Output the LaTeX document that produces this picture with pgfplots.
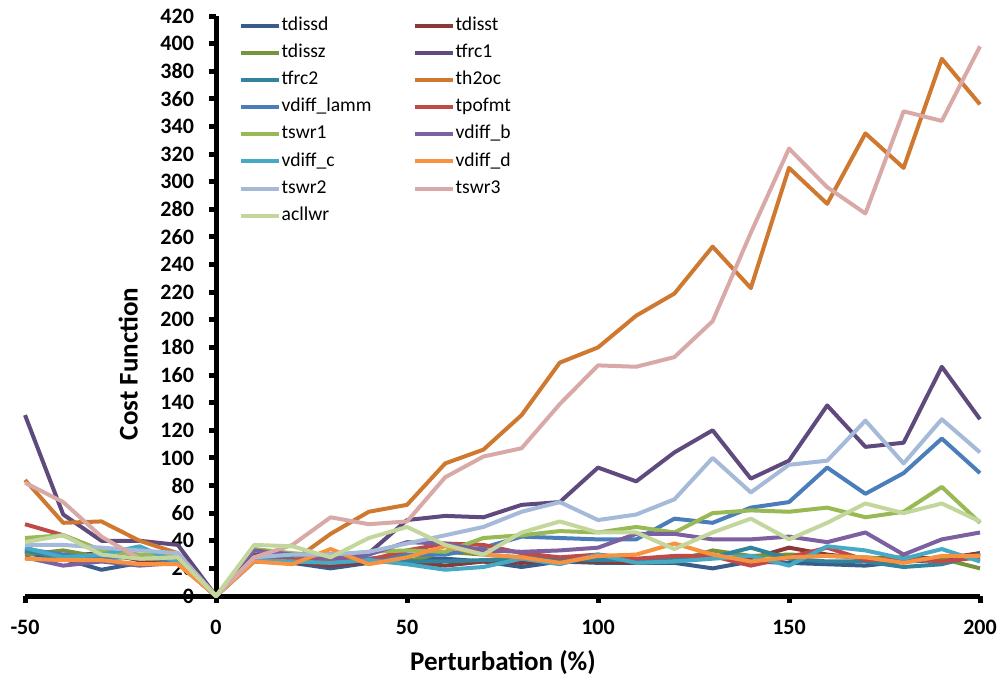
\documentclass[border=0pt]{standalone}
\usepackage{fontspec}
\setmainfont{Carlito}
\usepackage{pgfplots}
\usepackage{pgfplotstable}
\pgfplotsset{compat=1.18}

% Series colours
\definecolor{cTdissd}{HTML}{385D8A}
\definecolor{cTdisst}{HTML}{8C3836}
\definecolor{cTdissz}{HTML}{77933C}
\definecolor{cTfrcA}{HTML}{5F4A7E}
\definecolor{cTfrcB}{HTML}{31849B}
\definecolor{cThoc}{HTML}{CF7830}
\definecolor{cLamm}{HTML}{4A7EBB}
\definecolor{cTpofmt}{HTML}{BE4B48}
\definecolor{cTswrA}{HTML}{98B954}
\definecolor{cVdiffB}{HTML}{7D60A0}
\definecolor{cVdiffC}{HTML}{46AAC5}
\definecolor{cVdiffD}{HTML}{F69240}
\definecolor{cTswrB}{HTML}{A5B9D8}
\definecolor{cTswrC}{HTML}{D9A9A7}
\definecolor{cAcllwr}{HTML}{C3D69B}

\pgfplotstableread{
x    tdissd tdisst tdissz tfrc1 tfrc2 th2oc lamm tpofmt tswr1 vb vc vd tswr2 tswr3 acllwr
-50  31 32 30 131 33  84  34 52 42 28 35 27  37  82 39
-40  27 29 33  59 27  53  30 44 44 22 28 26  37  68 44
-30  19 31 28  40 28  54  27 33 33 25 30 26  35  43 30
-20  24 26 28  40 35  40  29 28 30 22 36 23  33  27 27
-10  24 25 25  37 24  31  25 27 29 24 24 23  31  28 28
0     0  0  0   0  0   0   0  0  0  0  0  0   0   0  0
10   25 27 28  30 27  26  27 27 34 33 26 25  28  28 37
20   24 25 28  30 28  25  26 26 31 30 25 23  30  37 36
30   20 22 30  30 24  45  28 26 29 27 24 34  30  57 28
40   24 25 27  31 26  61  27 26 32 30 26 23  32  52 42
50   26 25 25  55 25  66  30 33 33 39 23 28  38  54 50
60   27 22 32  58 25  96  30 38 32 38 19 36  44  86 37
70   25 25 30  57 26 106  35 37 42 33 21 30  50 101 30
80   21 24 28  66 27 131  43 31 44 32 27 28  61 107 46
90   25 26 27  68 27 169  42 28 47 33 23 24  68 139 54
100  24 25 27  93 26 180  41 30 46 35 30 29  55 167 46
110  24 24 26  83 26 203  41 27 50 45 24 30  59 166 46
120  24 28 25 104 28 219  56 29 46 45 25 38  70 173 34
130  20 28 33 120 28 253  53 29 60 41 27 30 100 199 46
140  25 27 29  85 35 223  64 22 62 41 29 25  75 263 56
150  24 35 30  98 27 310  68 28 61 43 22 28  95 324 41
160  23 30 29 138 25 284  93 35 64 39 36 29  98 296 53
170  22 27 28 108 25 335  74 26 57 46 33 28 127 277 67
180  25 28 26 111 21 310  89 27 61 30 27 24  96 351 60
190  26 27 27 166 23 389 114 25 79 41 34 29 128 344 67
200  31 31 20 128 30 356  89 28 53 46 25 29 104 398 54
}\costdata

% first legend column gets a fixed width so the second column lines up
\newcommand{\lcol}[1]{\makebox[65pt][l]{#1}}

\begin{document}
\begin{tikzpicture}
\begin{axis}[
  scale only axis,
  width=477.5pt, height=290pt,
  xmin=-50, xmax=200, ymin=0, ymax=420,
  clip=false,
  axis lines=middle,
  axis line style={-, line width=2.5pt, black},
  xtick={-50,0,50,100,150,200},
  ytick={0,20,...,420},
  hide obscured x ticks=false,
  hide obscured y ticks=false,
  tick align=outside,
  major tick length=3.5pt,
  tick style={line width=2.5pt, black},
  /pgf/number format/assume math mode=true,
  tick label style={font=\fontsize{11}{12}\selectfont\bfseries},
  xticklabel style={yshift=-5pt},
  yticklabel style={xshift=-4pt},
  xlabel={Perturbation (\%)},
  ylabel={Cost Function},
  every axis x label/.style={at={(rel axis cs:0.5005,-0.114)}, anchor=center,
    font=\fontsize{13.5}{15}\selectfont\bfseries},
  every axis y label/.style={at={(rel axis cs:0.108,0.40)}, anchor=center, rotate=90,
    font=\fontsize{13.5}{15}\selectfont\bfseries},
  legend columns=2,
  legend cell align=left,
  legend style={draw=none, fill=none, at={(rel axis cs:0.217,1.005)}, anchor=north west,
    font=\fontsize{9.8}{11}\selectfont, column sep=0pt, row sep=5.05pt,
    nodes={text height=6.5pt, text depth=2pt, inner ysep=0pt, inner xsep=0.5pt}},
  legend image code/.code={\draw[#1, line width=2pt] (0pt,0pt) -- (19pt,0pt);},
  every axis plot/.append style={line width=2pt, line join=round, mark=none},
]
\addplot[cTdissd]  table[x=x,y=tdissd] {\costdata}; \addlegendentry{\lcol{tdissd}}
\addplot[cTdisst]  table[x=x,y=tdisst] {\costdata}; \addlegendentry{tdisst}
\addplot[cTdissz]  table[x=x,y=tdissz] {\costdata}; \addlegendentry{\lcol{tdissz}}
\addplot[cTfrcA]   table[x=x,y=tfrc1]  {\costdata}; \addlegendentry{tfrc1}
\addplot[cTfrcB]   table[x=x,y=tfrc2]  {\costdata}; \addlegendentry{\lcol{tfrc2}}
\addplot[cThoc]    table[x=x,y=th2oc]  {\costdata}; \addlegendentry{th2oc}
\addplot[cLamm]    table[x=x,y=lamm]   {\costdata}; \addlegendentry{\lcol{vdiff\_lamm}}
\addplot[cTpofmt]  table[x=x,y=tpofmt] {\costdata}; \addlegendentry{tpofmt}
\addplot[cTswrA]   table[x=x,y=tswr1]  {\costdata}; \addlegendentry{\lcol{tswr1}}
\addplot[cVdiffB]  table[x=x,y=vb]     {\costdata}; \addlegendentry{vdiff\_b}
\addplot[cVdiffC]  table[x=x,y=vc]     {\costdata}; \addlegendentry{\lcol{vdiff\_c}}
\addplot[cVdiffD]  table[x=x,y=vd]     {\costdata}; \addlegendentry{vdiff\_d}
\addplot[cTswrB]   table[x=x,y=tswr2]  {\costdata}; \addlegendentry{\lcol{tswr2}}
\addplot[cTswrC]   table[x=x,y=tswr3]  {\costdata}; \addlegendentry{tswr3}
\addplot[cAcllwr]  table[x=x,y=acllwr] {\costdata}; \addlegendentry{\lcol{acllwr}}
\coordinate (bbSW) at (rel axis cs:-0.0262,-0.1397);
\coordinate (bbNE) at (rel axis cs:1.0199,1.0276);
\end{axis}
\pgfresetboundingbox
\useasboundingbox (bbSW) rectangle (bbNE);
\end{tikzpicture}
\end{document}
